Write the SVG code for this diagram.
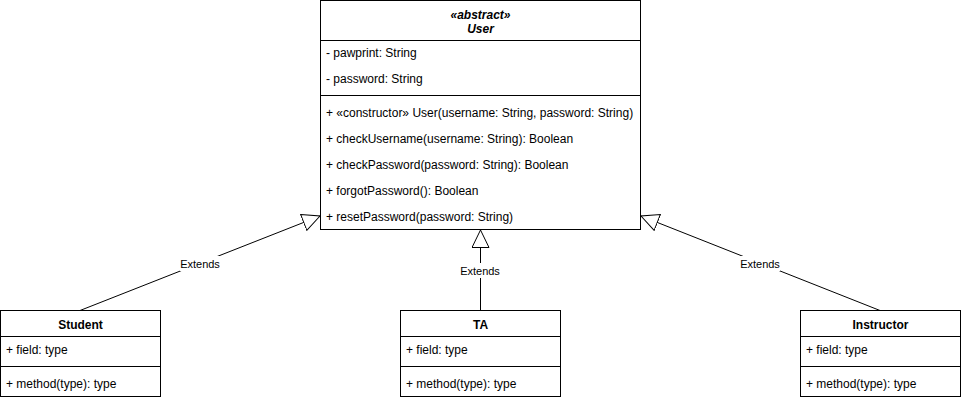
<svg xmlns="http://www.w3.org/2000/svg" width="961" height="400" viewBox="0 0 961 400">
<defs>
<style>
.box{fill:#fff;stroke:#000;stroke-width:1}
.div{stroke:#000;stroke-width:1;fill:none}
text{font-family:"Liberation Sans",Arial,Helvetica,sans-serif;font-size:12px;fill:#000}
.title{font-weight:bold;text-anchor:middle}
.abs{font-style:italic;font-weight:bold;text-anchor:middle;font-size:12px}
.edge{stroke:#000;stroke-width:1;fill:none}
.lbl{font-size:11px;text-anchor:middle}
.lblbg{fill:#fff;stroke:none}
</style>
<marker id="inherit" viewBox="0 0 20 20" refX="18" refY="9" markerWidth="20" markerHeight="20" markerUnits="userSpaceOnUse" orient="auto">
<path d="M0.5,0.5 L18,9 L0.5,17.5 Z" fill="#fff" stroke="#000" stroke-width="1"/>
</marker>
</defs>
<rect width="961" height="400" fill="#fff"/>
<g id="connectors">
<g id="edge-student">
<path class="edge" d="M80,310.5 L320,216" marker-end="url(#inherit)"/>
<rect class="lblbg" x="180" y="256" width="40" height="15"/>
<text class="lbl" x="200" y="267.5">Extends</text>
</g>
<g id="edge-ta">
<path class="edge" d="M480.5,310.5 L480.5,230" marker-end="url(#inherit)"/>
<rect class="lblbg" x="460" y="263" width="41" height="15"/>
<text class="lbl" x="480" y="274.5">Extends</text>
</g>
<g id="edge-instructor">
<path class="edge" d="M880,310.5 L641,216" marker-end="url(#inherit)"/>
<rect class="lblbg" x="740" y="256" width="40" height="15"/>
<text class="lbl" x="760" y="267.5">Extends</text>
</g>
</g>
<g id="user">
<rect class="box" x="320.5" y="0.5" width="320" height="229"/>
<line class="div" x1="320.5" y1="40.5" x2="640.5" y2="40.5"/>
<line class="div" x1="320.5" y1="95.5" x2="640.5" y2="95.5"/>
<text class="abs" x="480.5" y="18.5">«abstract»</text>
<text class="abs" x="480.5" y="32.5">User</text>
<text x="326" y="57">- pawprint: String</text>
<text x="326" y="83">- password: String</text>
<text x="326" y="117">+ «constructor» User(username: String, password: String)</text>
<text x="326" y="143">+ checkUsername(username: String): Boolean</text>
<text x="326" y="169">+ checkPassword(password: String): Boolean</text>
<text x="326" y="195">+ forgotPassword(): Boolean</text>
<text x="326" y="221">+ resetPassword(password: String)</text>
</g>
<g id="student">
<rect class="box" x="0.5" y="310.5" width="160" height="86"/>
<line class="div" x1="0.5" y1="336.5" x2="160.5" y2="336.5"/>
<line class="div" x1="0.5" y1="366.5" x2="160.5" y2="366.5"/>
<text class="title" x="80.5" y="328.5">Student</text>
<text x="6" y="354">+ field: type</text>
<text x="6" y="387.5">+ method(type): type</text>
</g>
<g id="ta">
<rect class="box" x="400.5" y="310.5" width="160" height="86"/>
<line class="div" x1="400.5" y1="336.5" x2="560.5" y2="336.5"/>
<line class="div" x1="400.5" y1="366.5" x2="560.5" y2="366.5"/>
<text class="title" x="480.5" y="328.5">TA</text>
<text x="406" y="354">+ field: type</text>
<text x="406" y="387.5">+ method(type): type</text>
</g>
<g id="instructor">
<rect class="box" x="800.5" y="310.5" width="160" height="86"/>
<line class="div" x1="800.5" y1="336.5" x2="960.5" y2="336.5"/>
<line class="div" x1="800.5" y1="366.5" x2="960.5" y2="366.5"/>
<text class="title" x="880.5" y="328.5">Instructor</text>
<text x="806" y="354">+ field: type</text>
<text x="806" y="387.5">+ method(type): type</text>
</g>
</svg>
